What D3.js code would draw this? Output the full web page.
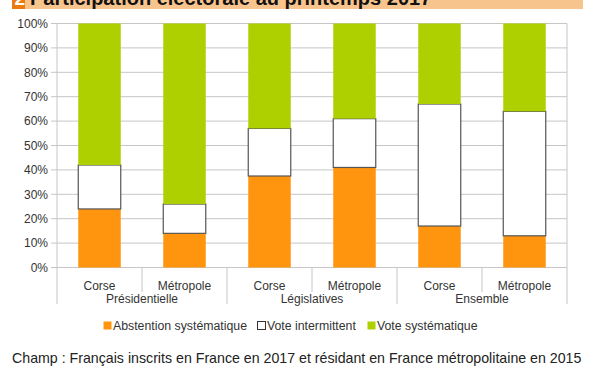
<!DOCTYPE html>
<html>
<head>
<meta charset="utf-8">
<script src="https://cdn.jsdelivr.net/npm/d3@7"></script>
<style>
  body { margin: 0; background: #fff; }
  svg { display: block; font-family: "Liberation Sans", Arial, sans-serif; }
</style>
</head>
<body>
<svg id="chart" width="600" height="372"></svg>
<script>
const categories = ["Corse", "Métropole", "Corse", "Métropole", "Corse", "Métropole"];
const groups = ["Présidentielle", "Législatives", "Ensemble"];
const abstention = [24, 14, 37.5, 41, 17, 13];
const intermittent = [18, 12, 19.5, 20, 50, 51];
const systematique = [58, 74, 43, 39, 33, 36];
const seriesNames = ["Abstention systématique", "Vote intermittent", "Vote systématique"];
const yTicks = [0, 10, 20, 30, 40, 50, 60, 70, 80, 90, 100];

const svg = d3.select("#chart");
const margin = { top: 23.5, left: 57, right: 33, bottom: 104.5 };
const width = 600 - margin.left - margin.right;
const height = 372 - margin.top - margin.bottom;

// title band (cut off at the top, like the source)
svg.append("rect").attr("x", 12).attr("y", 0).attr("width", 571).attr("height", 9).attr("fill", "#f8c48e");
svg.append("rect").attr("x", 12).attr("y", 0).attr("width", 13).attr("height", 9).attr("fill", "#ec7a10");
svg.append("text").attr("x", 14.5).attr("y", 5).attr("fill", "#fff")
    .style("font-size", "19px").style("font-weight", "bold").text("2");
svg.append("text").attr("x", 30).attr("y", 5).attr("fill", "#111")
    .style("font-size", "20px").style("font-weight", "bold")
    .text("Participation électorale au printemps 2017");

const table = categories.map((c, i) => ({
    idx: i,
    [seriesNames[0]]: abstention[i],
    [seriesNames[1]]: intermittent[i],
    [seriesNames[2]]: systematique[i]
}));
const stacked = d3.stack().keys(seriesNames)(table);

const x = d3.scaleBand().domain(d3.range(categories.length)).range([0, width])
    .paddingInner(0.5).paddingOuter(0.25);
const y = d3.scaleLinear().domain([0, 100]).range([height, 0]);
const color = d3.scaleOrdinal().domain(seriesNames).range(["#ff950e", "#ffffff", "#aecf00"]);

const g = svg.append("g").attr("transform", `translate(${margin.left},${margin.top})`);

// grid
g.selectAll(".grid").data(yTicks).join("line")
    .attr("x1", -6).attr("x2", width)
    .attr("y1", d => y(d)).attr("y2", d => y(d))
    .attr("stroke", "#c6c6c6").attr("stroke-width", 1);
g.append("line").attr("x1", width).attr("x2", width).attr("y1", 0).attr("y2", height)
    .attr("stroke", "#c6c6c6");

// y labels
g.selectAll(".ylab").data(yTicks).join("text")
    .attr("x", -9).attr("y", d => y(d)).attr("dy", "0.35em")
    .attr("text-anchor", "end").attr("fill", "#333").style("font-size", "12px")
    .text(d => d + "%");

// bars
g.selectAll(".serie").data(stacked).join("g")
    .attr("fill", d => color(d.key))
    .selectAll("rect").data(d => d.map(v => ({ v, key: d.key }))).join("rect")
    .attr("x", d => x(d.v.data.idx))
    .attr("y", d => y(d.v[1]))
    .attr("width", x.bandwidth())
    .attr("height", d => y(d.v[0]) - y(d.v[1]))
    .attr("stroke", d => d.key === seriesNames[1] ? "#555" : "none")
    .attr("stroke-width", 1.2);

// x axis: two-level
const step = x.step();
const x0 = x(0) - (step - x.bandwidth()) / 2;
g.append("line").attr("x1", 0).attr("x2", 0).attr("y1", 0).attr("y2", height + 36.5).attr("stroke", "#c6c6c6");
g.selectAll(".sep").data(d3.range(1, categories.length + 1)).join("line")
    .attr("x1", d => x0 + d * step).attr("x2", d => x0 + d * step)
    .attr("y1", height).attr("y2", d => d % 2 === 0 ? height + 36.5 : height + 24.5)
    .attr("stroke", "#c6c6c6");

g.selectAll(".cat").data(categories).join("text")
    .attr("x", (d, i) => x(i) + x.bandwidth() / 2).attr("y", height + 18)
    .attr("dy", "0.35em").attr("text-anchor", "middle")
    .attr("fill", "#333").style("font-size", "12px").text(d => d);
g.selectAll(".grp").data(groups).join("text")
    .attr("x", (d, i) => x0 + (i * 2 + 1) * step).attr("y", height + 31)
    .attr("dy", "0.35em").attr("text-anchor", "middle")
    .attr("fill", "#333").style("font-size", "12px").text(d => d);

// legend
const legendX = [103, 257, 367];
const legend = svg.append("g").attr("transform", "translate(0,325.5)");
const items = legend.selectAll("g").data(seriesNames).join("g")
    .attr("transform", (d, i) => `translate(${legendX[i]},0)`);
items.append("rect").attr("x", 0.5).attr("y", -4).attr("width", 8).attr("height", 8)
    .attr("fill", d => color(d))
    .attr("stroke", d => d === seriesNames[1] ? "#333" : "none");
items.append("text").attr("x", 10).attr("dy", "0.35em")
    .attr("fill", "#333").style("font-size", "12.3px").text(d => d);

// footnote
svg.append("text").attr("x", 12).attr("y", 363)
    .attr("fill", "#222").style("font-size", "14.2px")
    .text("Champ : Français inscrits en France en 2017 et résidant en France métropolitaine en 2015");
</script>
</body>
</html>
